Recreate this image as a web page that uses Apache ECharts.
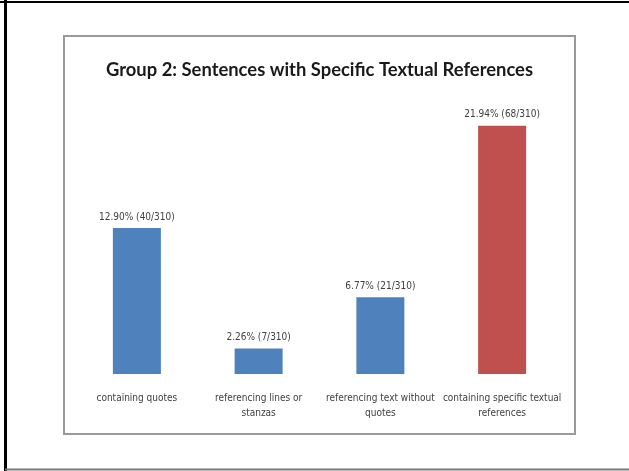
<!DOCTYPE html>
<html>
<head>
<meta charset="utf-8">
<script src="https://cdn.jsdelivr.net/npm/echarts@6/dist/echarts.min.js"></script>
<style>
  html, body { margin: 0; padding: 0; background: #fff; }
  #chart { width: 629px; height: 471px; }
</style>
</head>
<body>
<div id="chart"></div>
<script>
// Sentence categories (line breaks as they wrap under each bar)
const categories = [
  'containing quotes',
  'referencing lines or\nstanzas',
  'referencing text without\nquotes',
  'containing specific textual\nreferences'
];
// Share of sentences, in percent
const percentValues = [12.90, 2.26, 6.77, 21.94];
// Sentence counts behind each percentage
const sentenceCounts = [40, 7, 21, 68];
const totalSentences = 310;
// Bar fill per category
const barColors = ['#4F81BD', '#4F81BD', '#4F81BD', '#C0504D'];

const chart = echarts.init(document.getElementById('chart'), null, { renderer: 'canvas' });

const labelFont = '"Liberation Sans Narrow", "DejaVu Sans Condensed", sans-serif';

chart.setOption({
  animation: false,
  backgroundColor: '#ffffff',
  title: {
    text: 'Group 2: Sentences with Specific Textual References',
    left: 101,
    top: 56,
    textStyle: {
      fontFamily: 'Lato, sans-serif',
      fontWeight: 'bold',
      fontSize: 18.4,
      color: '#1a1a1a'
    }
  },
  grid: { left: 76, right: 66, top: 91, bottom: 97 },
  xAxis: {
    type: 'category',
    data: categories,
    axisLine: { show: false },
    axisTick: { show: false },
    axisLabel: {
      interval: 0,
      margin: 17,
      fontFamily: labelFont,
      fontSize: 10,
      lineHeight: 15,
      color: '#404040'
    }
  },
  yAxis: {
    type: 'value',
    min: 0,
    max: 25,
    show: false,
    splitLine: { show: false }
  },
  series: [{
    type: 'bar',
    barWidth: 48,
    data: percentValues.map((v, i) => ({
      value: v,
      itemStyle: { color: barColors[i] }
    })),
    label: {
      show: true,
      position: 'top',
      distance: 6,
      fontFamily: labelFont,
      fontSize: 10,
      color: '#404040',
      formatter: p => p.value.toFixed(2) + '% (' + sentenceCounts[p.dataIndex] + '/' + totalSentences + ')'
    }
  }],
  graphic: [
    // inner chart frame
    { type: 'rect', shape: { x: 64, y: 36, width: 511, height: 398 },
      style: { fill: 'none', stroke: '#9a9a9a', lineWidth: 2 }, z: -1 },
    // outer page frame
    { type: 'line', shape: { x1: 5.5, y1: 0, x2: 5.5, y2: 471 },
      style: { stroke: '#000', lineWidth: 3 } },
    { type: 'line', shape: { x1: 0, y1: 2, x2: 629, y2: 2 },
      style: { stroke: '#000', lineWidth: 2 } },
    { type: 'line', shape: { x1: 5, y1: 469.5, x2: 629, y2: 469.5 },
      style: { stroke: '#7a7a7a', lineWidth: 2 } }
  ]
});
</script>
</body>
</html>
